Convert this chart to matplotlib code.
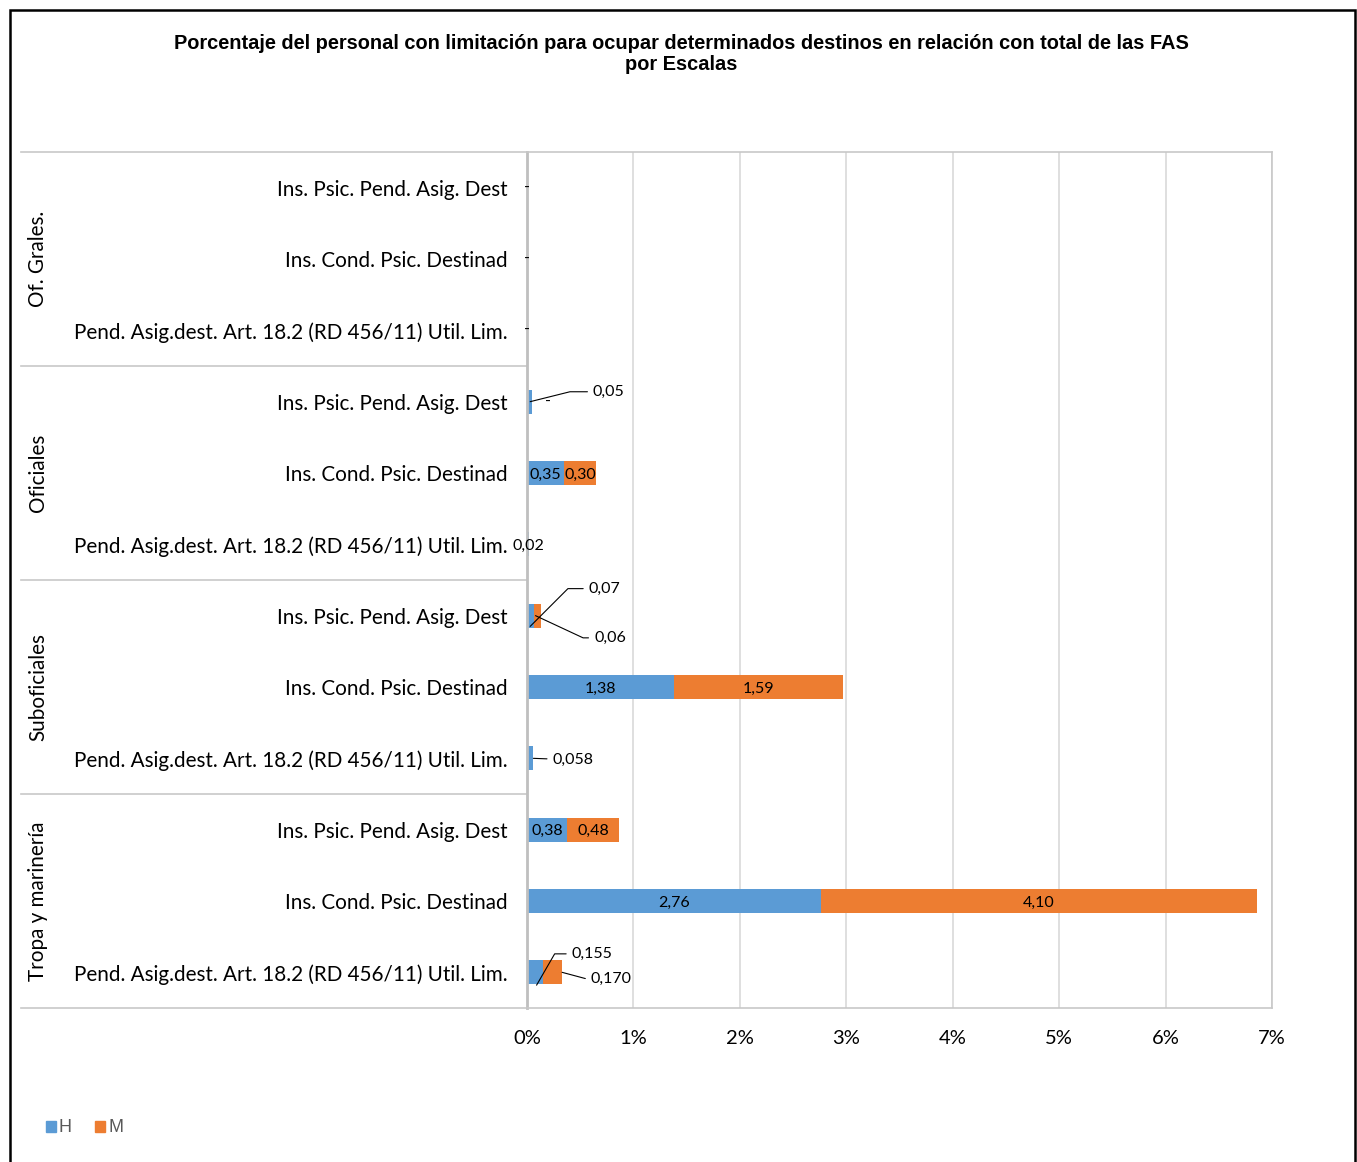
#!/usr/bin/env python3
import matplotlib
matplotlib.use('Agg')
from matplotlib import pyplot as plt
from matplotlib.patches import Rectangle, Patch

# datos (porcentaje sobre el total de las FAS)
escalas = ['Of. Grales.', 'Oficiales', 'Suboficiales', 'Tropa y marinería']
situaciones = ['Ins. Psic. Pend. Asig. Dest',
               'Ins. Cond. Psic. Destinad',
               'Pend. Asig.dest. Art. 18.2 (RD 456/11) Util. Lim.']
# orden: escala x situacion, de arriba a abajo
hombres = [0, 0, 0,
           0.05, 0.35, 0.02,
           0.07, 1.38, 0.058,
           0.38, 2.76, 0.155]
mujeres = [0, 0, 0,
           0, 0.30, 0,
           0.06, 1.59, 0,
           0.48, 4.10, 0.170]
etiq_h = ['-', '-', '-', '0,05', '0,35', '0,02', '0,07', '1,38', '0,058', '0,38', '2,76', '0,155']
etiq_m = ['', '', '', '-', '0,30', '', '0,06', '1,59', '', '0,48', '4,10', '0,170']

azul = '#5b9bd5'
naranja = '#ed7d31'
font = ['Lato', 'DejaVu Sans']
plt.rcParams['font.family'] = font
fs_lab = 11.5

W, H = 1357, 1162
fig = plt.figure(figsize=(W / 100, H / 100), dpi=100)
ax = fig.add_axes([527 / W, 1 - 1008 / H, 745 / W, 856 / H])

filas = list(range(len(hombres)))
etiquetas = situaciones * len(escalas)
ax.barh(filas, hombres, height=0.34, color=azul, label='H')
ax.barh(filas, mujeres, left=hombres, height=0.34, color=naranja, label='M')

ax.set_ylim(len(filas) - 0.5, -0.5)
ax.set_xlim(0, 7)
ax.set_yticks(filas)
ax.set_yticklabels(etiquetas, fontsize=14.9)
ax.set_xticks(range(8))
ax.set_xticklabels([f"{i}%" for i in range(8)], fontsize=14.5)
ax.tick_params(axis='both', length=0)
ax.tick_params(axis='y', pad=14)
ax.tick_params(axis='x', pad=16)
ax.grid(axis='x', color='#d9d9d9', linewidth=1.2)
ax.set_axisbelow(True)
for s in ['top', 'right', 'bottom']:
    ax.spines[s].set_color('#c8c8c8')
    ax.spines[s].set_linewidth(1.2)
ax.spines['left'].set_color('#bfbfbf')
ax.spines['left'].set_linewidth(2)

# separadores de grupos y etiquetas de escala
tr = ax.get_yaxis_transform()
x0 = (21 - 527) / 745
for yy in [-0.5, 2.5, 5.5, 8.5, 11.5]:
    ax.plot([x0, 0], [yy, yy], transform=tr, color='#c8c8c8', lw=1.2, clip_on=False)
for i, esc in enumerate(escalas):
    ax.text((38 - 527) / 745, 3 * i + 1, esc, transform=tr, rotation=90,
            ha='center', va='center', fontsize=14.9)

# etiquetas dentro de las barras
for i in filas:
    if hombres[i] > 0.3:
        ax.text(hombres[i] / 2, i, etiq_h[i], ha='center', va='center_baseline', fontsize=fs_lab)
    if mujeres[i] > 0.25:
        ax.text(hombres[i] + mujeres[i] / 2, i, etiq_m[i], ha='center', va='center_baseline',
                fontsize=fs_lab)

# valores pequeños
for i in range(3):
    ax.text(0, i, '-', ha='center', va='center', fontsize=fs_lab)
ax.text(0.2, 3, etiq_m[3], ha='center', va='center', fontsize=fs_lab)
ax.text(0.01, 5, etiq_h[5], ha='center', va='center_baseline', fontsize=fs_lab)

lead = dict(arrowstyle='-', color='black', lw=0.8, shrinkA=2, shrinkB=0)
def guia(texto, xy, xytext, ang):
    if ang is None:
        cs = 'arc3'
    else:
        cs = f"angle,angleA=0,angleB={ang},rad=0"
    ax.annotate(texto, xy=xy, xytext=xytext, ha='left', va='center_baseline', fontsize=fs_lab,
                arrowprops=dict(lead, connectionstyle=cs))

guia(etiq_h[3], (0.03, 3.0), (0.62, 2.84), 14)
guia(etiq_h[6], (0.03, 6.15), (0.58, 5.6), 45)
guia(etiq_m[6], (0.08, 6.0), (0.63, 6.29), -25)
guia(etiq_h[8], (0.06, 8), (0.24, 8.0), None)
guia(etiq_h[11], (0.09, 11.18), (0.42, 10.72), 60)
guia(etiq_m[11], (0.33, 11.0), (0.60, 11.07), -15)

# título
fig.text(681 / W, 1 - 54 / H,
         'Porcentaje del personal con limitación para ocupar determinados destinos en relación con total de las FAS\npor Escalas',
         ha='center', va='center', fontsize=14.4, fontweight='bold',
         family=['Liberation Sans', 'DejaVu Sans'], linespacing=1.1)
# leyenda
fig.legend(handles=[Patch(color=azul, label='H'), Patch(color=naranja, label='M')],
           loc='center left', bbox_to_anchor=(30 / W, 1 - 1128 / H), ncol=2, frameon=False,
           handlelength=0.55, handleheight=0.55, handletextpad=0.15, columnspacing=1.3,
           prop={'family': ['Liberation Sans', 'DejaVu Sans'], 'size': 13},
           labelcolor='#595959')

# marco exterior
fig.patches.append(Rectangle((10 / W, -0.01), 1345 / W, 1 - 10 / H + 0.01,
                             transform=fig.transFigure, fill=False, edgecolor='black', lw=1.8))

plt.savefig('out.png', dpi=100)
